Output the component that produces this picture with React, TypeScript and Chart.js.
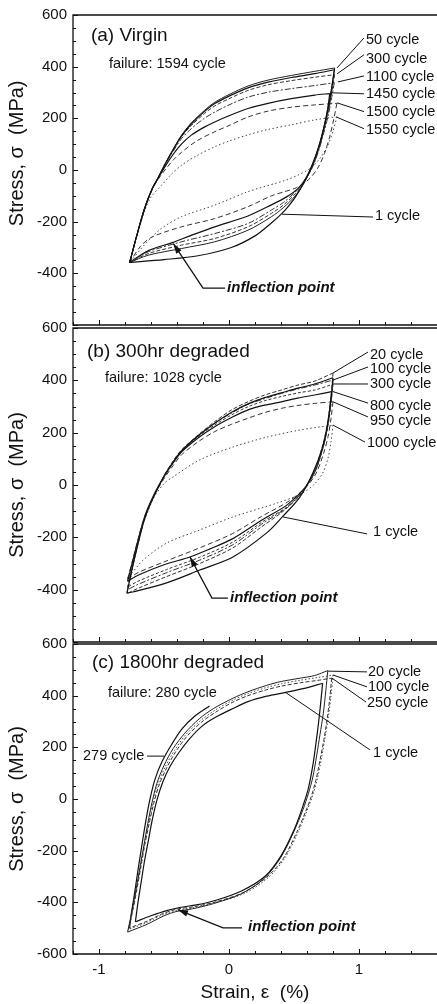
import React, { useEffect, useRef } from 'react';
import { Chart, registerables } from 'chart.js';

Chart.register(...registerables);

type Pt = [number, number];

// ---------------- Panel (a) Virgin : [strain %, stress MPa] ----------------
const a1Up: Pt[] = [[-0.764,-358],[-0.71,-255],[-0.65,-150],[-0.59,-72],[-0.545,-30],[-0.49,24],[-0.43,78],[-0.366,131],[-0.29,178],[-0.19,226],[-0.11,257],[0,286],[0.146,318],[0.3,340],[0.48,358],[0.66,373],[0.81,388]];
const a1Lo: Pt[] = [[0.81,388],[0.79,320],[0.765,245],[0.73,165],[0.69,90],[0.64,20],[0.58,-45],[0.51,-105],[0.45,-145],[0.4,-172],[0.326,-205],[0.2,-255],[0.018,-300],[-0.238,-332],[-0.5,-347],[-0.764,-358]];
const a50Up: Pt[] = [[-0.764,-358],[-0.71,-255],[-0.65,-150],[-0.59,-72],[-0.545,-30],[-0.49,25],[-0.43,80],[-0.366,134],[-0.29,182],[-0.19,230],[-0.11,262],[0,292],[0.146,325],[0.3,348],[0.48,366],[0.66,382],[0.813,395]];
const a50Lo: Pt[] = [[0.813,395],[0.79,315],[0.765,240],[0.73,160],[0.69,85],[0.64,15],[0.58,-48],[0.51,-100],[0.42,-145],[0.326,-181],[0.146,-233],[-0.11,-278],[-0.366,-304],[-0.623,-330],[-0.764,-358]];
const a300Up: Pt[] = [[-0.764,-358],[-0.71,-255],[-0.65,-150],[-0.59,-72],[-0.545,-30],[-0.49,24],[-0.43,77],[-0.366,129],[-0.29,172],[-0.19,218],[-0.11,248],[0,276],[0.146,308],[0.3,330],[0.48,346],[0.66,359],[0.813,369]];
const a300Lo: Pt[] = [[0.813,369],[0.79,300],[0.765,230],[0.73,155],[0.69,80],[0.64,12],[0.58,-45],[0.51,-92],[0.42,-135],[0.326,-168],[0.146,-220],[-0.11,-265],[-0.366,-291],[-0.623,-324],[-0.764,-358]];
const a1100Up: Pt[] = [[-0.764,-358],[-0.71,-255],[-0.65,-150],[-0.59,-72],[-0.545,-30],[-0.49,22],[-0.43,72],[-0.366,121],[-0.29,160],[-0.19,200],[-0.11,224],[0,252],[0.146,282],[0.3,301],[0.48,315],[0.66,327],[0.81,338]];
const a1100Lo: Pt[] = [[0.81,338],[0.79,280],[0.765,215],[0.73,145],[0.69,75],[0.64,8],[0.58,-42],[0.51,-85],[0.42,-125],[0.326,-155],[0.146,-207],[-0.11,-246],[-0.366,-278],[-0.623,-317],[-0.764,-358]];
const a1450Up: Pt[] = [[-0.764,-358],[-0.71,-255],[-0.65,-150],[-0.59,-72],[-0.545,-32],[-0.49,15],[-0.43,60],[-0.366,100],[-0.29,135],[-0.19,166],[-0.11,186],[0,210],[0.146,238],[0.3,258],[0.48,276],[0.66,290],[0.775,296]];
const a1450Lo: Pt[] = [[0.775,296],[0.76,240],[0.735,175],[0.7,105],[0.655,35],[0.6,-25],[0.53,-72],[0.44,-105],[0.326,-135],[0.146,-178],[-0.11,-220],[-0.3,-255],[-0.43,-280],[-0.62,-312],[-0.764,-358]];
const a1500Up: Pt[] = [[-0.764,-358],[-0.71,-255],[-0.65,-152],[-0.59,-75],[-0.54,-32],[-0.48,8],[-0.43,38],[-0.366,68],[-0.25,112],[-0.11,148],[0,172],[0.146,205],[0.3,228],[0.48,243],[0.66,252],[0.83,258]];
const a1500Lo: Pt[] = [[0.83,258],[0.805,195],[0.775,130],[0.735,65],[0.68,5],[0.61,-38],[0.52,-68],[0.42,-85],[0.326,-100],[0.146,-142],[-0.11,-188],[-0.366,-220],[-0.59,-259],[-0.68,-295],[-0.764,-358]];
const a1550Up: Pt[] = [[-0.764,-358],[-0.71,-258],[-0.65,-160],[-0.6,-105],[-0.52,-60],[-0.45,-20],[-0.366,18],[-0.25,55],[-0.11,90],[0,112],[0.146,136],[0.3,157],[0.48,175],[0.66,194],[0.83,206]];
const a1550Lo: Pt[] = [[0.83,206],[0.8,150],[0.76,95],[0.7,45],[0.62,5],[0.53,-20],[0.44,-39],[0.146,-84],[-0.11,-136],[-0.366,-181],[-0.53,-230],[-0.65,-290],[-0.764,-358]];

// ---------------- Panel (b) 300hr degraded ----------------
const b1Up: Pt[] = [[-0.785,-413],[-0.745,-320],[-0.7,-225],[-0.65,-130],[-0.597,-64],[-0.545,-10],[-0.495,38],[-0.43,88],[-0.366,130],[-0.238,188],[-0.11,236],[0.02,278],[0.146,310],[0.275,334],[0.403,352],[0.53,370],[0.659,386],[0.8,410]];
const b1Lo: Pt[] = [[0.8,410],[0.785,330],[0.76,235],[0.72,145],[0.645,46],[0.545,-46],[0.41,-122],[0.29,-183],[0.03,-275],[-0.225,-325],[-0.48,-374],[-0.74,-409],[-0.785,-413]];
const b20Up: Pt[] = [[-0.785,-415],[-0.745,-320],[-0.7,-222],[-0.65,-128],[-0.597,-62],[-0.545,-8],[-0.495,40],[-0.43,92],[-0.366,134],[-0.238,191],[-0.11,242],[0.02,287],[0.146,318],[0.275,344],[0.403,363],[0.53,382],[0.659,397],[0.8,428]];
const b20Lo: Pt[] = [[0.8,428],[0.785,340],[0.762,250],[0.725,160],[0.66,60],[0.57,-25],[0.43,-95],[0.25,-160],[0.03,-240],[-0.225,-300],[-0.48,-350],[-0.7,-395],[-0.785,-415]];
const b100Up: Pt[] = [[-0.78,-400],[-0.74,-310],[-0.695,-215],[-0.645,-122],[-0.595,-60],[-0.545,-8],[-0.495,38],[-0.43,88],[-0.366,130],[-0.238,188],[-0.11,236],[0.02,275],[0.146,308],[0.275,330],[0.403,350],[0.53,367],[0.659,382],[0.8,401]];
const b100Lo: Pt[] = [[0.8,401],[0.785,320],[0.762,235],[0.727,152],[0.662,55],[0.575,-20],[0.44,-88],[0.25,-150],[0.03,-228],[-0.225,-287],[-0.48,-335],[-0.7,-380],[-0.78,-400]];
const b300Up: Pt[] = [[-0.78,-390],[-0.74,-302],[-0.695,-210],[-0.645,-120],[-0.595,-58],[-0.545,-8],[-0.495,37],[-0.43,86],[-0.366,128],[-0.238,185],[-0.11,229],[0.02,268],[0.146,299],[0.275,322],[0.403,338],[0.53,352],[0.659,363],[0.8,385]];
const b300Lo: Pt[] = [[0.8,385],[0.785,310],[0.762,228],[0.727,148],[0.665,55],[0.58,-15],[0.45,-82],[0.25,-143],[0.03,-218],[-0.225,-276],[-0.48,-323],[-0.7,-368],[-0.78,-390]];
const b800Up: Pt[] = [[-0.78,-368],[-0.74,-290],[-0.695,-202],[-0.645,-115],[-0.595,-55],[-0.545,-6],[-0.495,36],[-0.43,84],[-0.366,126],[-0.238,180],[-0.11,223],[0.02,258],[0.146,287],[0.275,305],[0.403,318],[0.53,332],[0.659,344],[0.79,357]];
const b800Lo: Pt[] = [[0.79,357],[0.775,290],[0.752,212],[0.72,140],[0.665,55],[0.585,-10],[0.45,-75],[0.25,-135],[0.03,-205],[-0.15,-245],[-0.3,-275],[-0.5,-305],[-0.7,-345],[-0.78,-368]];
const b950Up: Pt[] = [[-0.78,-360],[-0.74,-285],[-0.695,-198],[-0.645,-115],[-0.595,-58],[-0.545,-12],[-0.495,28],[-0.43,74],[-0.366,115],[-0.238,165],[-0.11,204],[0.02,232],[0.146,255],[0.275,277],[0.403,293],[0.53,304],[0.659,312],[0.8,318]];
const b950Lo: Pt[] = [[0.8,318],[0.785,255],[0.762,185],[0.727,120],[0.67,45],[0.59,-10],[0.45,-65],[0.25,-120],[0.03,-185],[-0.225,-240],[-0.48,-290],[-0.7,-335],[-0.78,-360]];
const b1000Up: Pt[] = [[-0.777,-355],[-0.72,-250],[-0.66,-150],[-0.58,-50],[-0.5,5],[-0.43,31],[-0.225,96],[0.03,145],[0.29,183],[0.545,210],[0.8,229]];
const b1000Lo: Pt[] = [[0.8,229],[0.785,165],[0.76,100],[0.72,45],[0.65,0],[0.55,-35],[0.37,-69],[0.03,-122],[-0.225,-172],[-0.48,-222],[-0.66,-287],[-0.777,-355]];

// ---------------- Panel (c) 1800hr degraded ----------------
const c1Up: Pt[] = [[-0.72,-475],[-0.7,-400],[-0.675,-320],[-0.65,-240],[-0.62,-160],[-0.59,-80],[-0.555,-5],[-0.51,65],[-0.455,125],[-0.385,180],[-0.3,235],[-0.2,285],[-0.097,318],[0.03,350],[0.146,377],[0.29,398],[0.43,412],[0.58,428],[0.72,448]];
const c1Lo: Pt[] = [[0.72,448],[0.705,370],[0.69,300],[0.67,220],[0.648,140],[0.61,40],[0.56,-40],[0.5,-120],[0.4,-220],[0.28,-298],[0.1,-355],[-0.1,-392],[-0.25,-410],[-0.38,-420],[-0.48,-432],[-0.6,-452],[-0.72,-475]];
const c20Up: Pt[] = [[-0.78,-515],[-0.745,-430],[-0.715,-350],[-0.685,-265],[-0.655,-180],[-0.625,-95],[-0.593,-15],[-0.555,60],[-0.5,130],[-0.43,195],[-0.34,255],[-0.23,310],[-0.12,350],[0.03,390],[0.146,415],[0.29,440],[0.403,455],[0.55,468],[0.659,478],[0.76,497]];
const c20Lo: Pt[] = [[0.76,497],[0.745,420],[0.725,330],[0.7,250],[0.675,170],[0.645,85],[0.61,20],[0.57,-40],[0.5,-125],[0.4,-225],[0.27,-308],[0.09,-368],[-0.12,-405],[-0.28,-425],[-0.4,-435],[-0.5,-452],[-0.63,-485],[-0.78,-515]];
const c100Up: Pt[] = [[-0.775,-505],[-0.74,-425],[-0.71,-345],[-0.68,-260],[-0.65,-175],[-0.618,-93],[-0.585,-15],[-0.545,58],[-0.49,125],[-0.42,188],[-0.33,250],[-0.22,303],[-0.11,343],[0.03,383],[0.146,408],[0.29,432],[0.403,446],[0.55,460],[0.68,470],[0.8,480]];
const c100Lo: Pt[] = [[0.8,480],[0.785,400],[0.765,320],[0.74,240],[0.712,160],[0.68,80],[0.645,15],[0.6,-45],[0.53,-130],[0.43,-228],[0.3,-305],[0.12,-365],[-0.1,-400],[-0.28,-422],[-0.4,-430],[-0.52,-450],[-0.64,-480],[-0.775,-505]];
const c250Up: Pt[] = [[-0.77,-500],[-0.735,-420],[-0.705,-340],[-0.675,-255],[-0.645,-170],[-0.612,-90],[-0.578,-15],[-0.537,55],[-0.48,120],[-0.41,183],[-0.32,245],[-0.21,298],[-0.1,337],[0.03,375],[0.146,400],[0.29,423],[0.403,437],[0.55,450],[0.68,459],[0.79,468]];
const c250Lo: Pt[] = [[0.79,468],[0.775,390],[0.755,310],[0.73,230],[0.7,150],[0.668,72],[0.633,10],[0.59,-48],[0.52,-130],[0.42,-228],[0.29,-303],[0.11,-362],[-0.1,-398],[-0.28,-418],[-0.4,-426],[-0.52,-446],[-0.64,-475],[-0.77,-500]];
const c279Up: Pt[] = [[-0.765,-500],[-0.75,-440],[-0.725,-360],[-0.7,-275],[-0.675,-195],[-0.645,-100],[-0.612,-10],[-0.57,75],[-0.515,145],[-0.44,212],[-0.36,272],[-0.26,322],[-0.15,360]];

// ---------------- Axes ----------------
const X_MIN = -1.2;
const X_MAX = 1.6;
const Y_MIN = -600;
const Y_MAX = 600;
const xTickLabels = [-1, 0, 1];
const yTickLabelsAB = [600, 400, 200, 0, -200, -400];
const yTickLabelsC = [600, 400, 200, 0, -200, -400, -600];

const FONT = '"Liberation Sans", Arial, Helvetica, sans-serif';
const INK = '#111';
const W = 437;
const H = 1004;

interface SeriesDef { up: Pt[]; lo: Pt[] | null; dash: number[]; width: number; color: string }
interface LabelDef { text: string; tx: number; ty: number; from: Pt; to: Pt }
interface PanelDef {
  top: number; bottom: number; showX: boolean; yTicks: number[]; yTitle: string;
  title: string; titlePos: Pt; failure: string; failurePos: Pt;
  series: SeriesDef[]; labels: LabelDef[];
  inflText: Pt; inflPath: Pt[];
}

const panels: PanelDef[] = [
  {
    top: 14, bottom: 325, showX: false, yTicks: yTickLabelsAB, yTitle: '      Stress, σ  (MPa)',
    title: '(a) Virgin', titlePos: [-1.062, 519],
    failure: 'failure: 1594 cycle', failurePos: [-0.923, 411],
    series: [
      { up: a1Up, lo: a1Lo, dash: [], width: 1.2, color: '#111' },
      { up: a50Up, lo: a50Lo, dash: [], width: 1.0, color: '#222' },
      { up: a300Up, lo: a300Lo, dash: [4, 2], width: 1.0, color: '#333' },
      { up: a1100Up, lo: a1100Lo, dash: [6, 2, 2, 2], width: 1.0, color: '#333' },
      { up: a1450Up, lo: a1450Lo, dash: [], width: 1.2, color: '#111' },
      { up: a1500Up, lo: a1500Lo, dash: [5, 3], width: 1.0, color: '#333' },
      { up: a1550Up, lo: a1550Lo, dash: [1.5, 2.5], width: 1.0, color: '#444' },
    ],
    labels: [
      { text: '50 cycle', tx: 1.054, ty: 503, from: [1.038, 511], to: [0.831, 395] },
      { text: '300 cycle', tx: 1.054, ty: 431, from: [1.038, 446], to: [0.831, 372] },
      { text: '1100 cycle', tx: 1.054, ty: 361, from: [1.038, 364], to: [0.838, 341] },
      { text: '1450 cycle', tx: 1.054, ty: 295, from: [1.038, 295], to: [0.777, 299] },
      { text: '1500 cycle', tx: 1.054, ty: 226, from: [1.038, 226], to: [0.831, 260] },
      { text: '1550 cycle', tx: 1.054, ty: 156, from: [1.038, 160], to: [0.831, 204] },
      { text: '1 cycle', tx: 1.123, ty: -179, from: [1.108, -182], to: [0.408, -171] },
    ],
    inflText: [-0.015, -457], inflPath: [[-0.03, -457], [-0.2, -457], [-0.428, -285]],
  },
  {
    top: 328, bottom: 642, showX: false, yTicks: yTickLabelsAB, yTitle: 'Stress, σ  (MPa)',
    title: '(b) 300hr degraded', titlePos: [-1.092, 508],
    failure: 'failure: 1028 cycle', failurePos: [-0.954, 409],
    series: [
      { up: b1Up, lo: b1Lo, dash: [], width: 1.2, color: '#111' },
      { up: b20Up, lo: b20Lo, dash: [4, 2], width: 1.0, color: '#333' },
      { up: b100Up, lo: b100Lo, dash: [6, 2, 2, 2], width: 1.0, color: '#333' },
      { up: b300Up, lo: b300Lo, dash: [3, 2], width: 1.0, color: '#333' },
      { up: b800Up, lo: b800Lo, dash: [], width: 1.2, color: '#111' },
      { up: b950Up, lo: b950Lo, dash: [5, 3], width: 1.0, color: '#333' },
      { up: b1000Up, lo: b1000Lo, dash: [1.5, 2.5], width: 1.0, color: '#444' },
    ],
    labels: [
      { text: '20 cycle', tx: 1.085, ty: 497, from: [1.069, 508], to: [0.8, 428] },
      { text: '100 cycle', tx: 1.085, ty: 443, from: [1.069, 451], to: [0.8, 401] },
      { text: '300 cycle', tx: 1.085, ty: 386, from: [1.069, 386], to: [0.8, 386] },
      { text: '800 cycle', tx: 1.085, ty: 302, from: [1.069, 313], to: [0.8, 357] },
      { text: '950 cycle', tx: 1.085, ty: 245, from: [1.069, 260], to: [0.8, 318] },
      { text: '1000 cycle', tx: 1.062, ty: 160, from: [1.046, 164], to: [0.8, 229] },
      { text: '1 cycle', tx: 1.108, ty: -180, from: [1.062, -187], to: [0.415, -122] },
    ],
    inflText: [0.008, -432], inflPath: [[-0.008, -432], [-0.131, -432], [-0.3, -275]],
  },
  {
    top: 644, bottom: 954, showX: true, yTicks: yTickLabelsC, yTitle: 'Stress, σ  (MPa)',
    title: '(c) 1800hr degraded', titlePos: [-1.054, 526],
    failure: 'failure: 280 cycle', failurePos: [-0.931, 410],
    series: [
      { up: c1Up, lo: c1Lo, dash: [], width: 1.2, color: '#111' },
      { up: c20Up, lo: c20Lo, dash: [], width: 1.0, color: '#222' },
      { up: c100Up, lo: c100Lo, dash: [1.5, 2], width: 1.0, color: '#444' },
      { up: c250Up, lo: c250Lo, dash: [4, 2], width: 1.0, color: '#333' },
      { up: c279Up, lo: null, dash: [], width: 1.2, color: '#111' },
    ],
    labels: [
      { text: '20 cycle', tx: 1.069, ty: 492, from: [1.062, 492], to: [0.762, 495] },
      { text: '100 cycle', tx: 1.069, ty: 434, from: [1.062, 434], to: [0.8, 480] },
      { text: '250 cycle', tx: 1.062, ty: 372, from: [1.055, 375], to: [0.792, 468] },
      { text: '1 cycle', tx: 1.108, ty: 178, from: [1.085, 190], to: [0.431, 414] },
      { text: '279 cycle', tx: -1.123, ty: 166, from: [-0.631, 166], to: [-0.5, 166] },
    ],
    inflText: [0.146, -496], inflPath: [[0.1, -499], [-0.046, -499], [-0.392, -429]],
  },
];

function makeDecor(p: PanelDef) {
  return {
    id: 'decor',
    afterDraw(chart: any) {
      const { ctx, chartArea } = chart;
      const { left, right, top, bottom } = chartArea;
      const xs = chart.scales.x;
      const ys = chart.scales.y;
      const px = (v: number) => xs.getPixelForValue(v);
      const py = (v: number) => ys.getPixelForValue(v);
      ctx.save();
      ctx.strokeStyle = INK;
      ctx.setLineDash([]);
      // frame
      ctx.lineWidth = 1.3;
      ctx.beginPath();
      ctx.moveTo(right, top); ctx.lineTo(left, top); ctx.lineTo(left, bottom); ctx.lineTo(right, bottom);
      ctx.stroke();
      // inward ticks
      ctx.lineWidth = 1;
      ctx.beginPath();
      for (let i = 0; i <= 14; i++) {
        const v = X_MIN + i * 0.2;
        const major = Math.abs(v - Math.round(v)) < 1e-6;
        const x = Math.round(px(v)) + 0.5;
        ctx.moveTo(x, bottom); ctx.lineTo(x, bottom - (major ? 5 : 3));
      }
      for (let v = Y_MIN; v <= Y_MAX; v += 50) {
        const major = v % 200 === 0;
        const y = Math.round(py(v)) + 0.5;
        ctx.moveTo(left, y); ctx.lineTo(left + (major ? 5 : 3), y);
      }
      ctx.stroke();
      // texts
      ctx.fillStyle = INK;
      ctx.textBaseline = 'middle';
      ctx.textAlign = 'left';
      ctx.font = `19px ${FONT}`;
      ctx.fillText(p.title, px(p.titlePos[0]), py(p.titlePos[1]));
      ctx.font = `14.5px ${FONT}`;
      ctx.fillText(p.failure, px(p.failurePos[0]), py(p.failurePos[1]));
      ctx.lineWidth = 1;
      for (const l of p.labels) {
        ctx.fillText(l.text, px(l.tx), py(l.ty));
        ctx.beginPath();
        ctx.moveTo(px(l.from[0]), py(l.from[1]));
        ctx.lineTo(px(l.to[0]), py(l.to[1]));
        ctx.stroke();
      }
      // inflection point
      ctx.font = `italic bold 15px ${FONT}`;
      ctx.fillText('inflection point', px(p.inflText[0]), py(p.inflText[1]));
      const pts = p.inflPath.map(([a, b]) => [px(a), py(b)]);
      ctx.lineWidth = 1.3;
      ctx.beginPath();
      ctx.moveTo(pts[0][0], pts[0][1]);
      for (let i = 1; i < pts.length; i++) ctx.lineTo(pts[i][0], pts[i][1]);
      ctx.stroke();
      const [tx, ty] = pts[pts.length - 1];
      const [sx, sy] = pts[pts.length - 2];
      const ang = Math.atan2(ty - sy, tx - sx);
      const len = 10, half = 3.2;
      ctx.beginPath();
      ctx.moveTo(tx, ty);
      ctx.lineTo(tx - len * Math.cos(ang) + half * Math.sin(ang), ty - len * Math.sin(ang) - half * Math.cos(ang));
      ctx.lineTo(tx - len * Math.cos(ang) - half * Math.sin(ang), ty - len * Math.sin(ang) + half * Math.cos(ang));
      ctx.closePath();
      ctx.fill();
      ctx.restore();
    },
  };
}

function buildConfig(p: PanelDef): any {
  const datasets: any[] = [];
  for (const s of p.series) {
    for (const branch of [s.up, s.lo]) {
      if (!branch) continue;
      datasets.push({
        data: branch.map(([x, y]) => ({ x, y })),
        borderColor: s.color,
        borderWidth: s.width,
        borderDash: s.dash,
        pointRadius: 0,
        fill: false,
        tension: 0.3,
      });
    }
  }
  const xScale: any = p.showX
    ? {
        type: 'linear', min: X_MIN, max: X_MAX, position: 'bottom',
        afterBuildTicks: (sc: any) => { sc.ticks = xTickLabels.map((v) => ({ value: v })); },
        afterFit: (sc: any) => { sc.height = H - p.bottom; },
        grid: { display: false, drawTicks: false },
        border: { display: false },
        ticks: { font: { family: FONT, size: 15 }, color: INK, padding: 7, maxRotation: 0, callback: (v: any) => String(v) },
        title: { display: true, text: 'Strain, ε  (%)', font: { family: FONT, size: 19 }, color: INK, padding: { top: 0, bottom: 0 } },
      }
    : { type: 'linear', min: X_MIN, max: X_MAX, display: false };
  return {
    type: 'line',
    data: { datasets },
    options: {
      responsive: false,
      animation: false,
      devicePixelRatio: 1,
      events: [],
      layout: { padding: { top: p.top, bottom: p.showX ? 0 : H - p.bottom, left: 0, right: 0 } },
      plugins: { legend: { display: false }, tooltip: { enabled: false } },
      scales: {
        x: xScale,
        y: {
          type: 'linear', min: Y_MIN, max: Y_MAX, position: 'left',
          afterBuildTicks: (sc: any) => { sc.ticks = p.yTicks.map((v) => ({ value: v })); },
          afterFit: (sc: any) => { sc.width = 73; },
          grid: { display: false, drawTicks: false },
          border: { display: false },
          ticks: { font: { family: FONT, size: 15 }, color: INK, padding: 6, callback: (v: any) => String(v) },
          title: { display: true, text: p.yTitle, font: { family: FONT, size: 20 }, color: INK, padding: { top: 5, bottom: 0 } },
        },
      },
    },
    plugins: [makeDecor(p)],
  };
}

function PanelCanvas({ panel }: { panel: PanelDef }) {
  const ref = useRef<HTMLCanvasElement>(null);
  useEffect(() => {
    if (!ref.current) return;
    const chart = new Chart(ref.current, buildConfig(panel));
    return () => chart.destroy();
  }, [panel]);
  return <canvas ref={ref} width={W} height={H} style={{ position: 'absolute', left: 0, top: 0 }} />;
}

export default function App() {
  return (
    <div style={{ position: 'absolute', left: 0, top: 0, width: W, height: H, background: '#fff', overflow: 'hidden' }}>
      {panels.map((p, i) => <PanelCanvas key={i} panel={p} />)}
    </div>
  );
}
